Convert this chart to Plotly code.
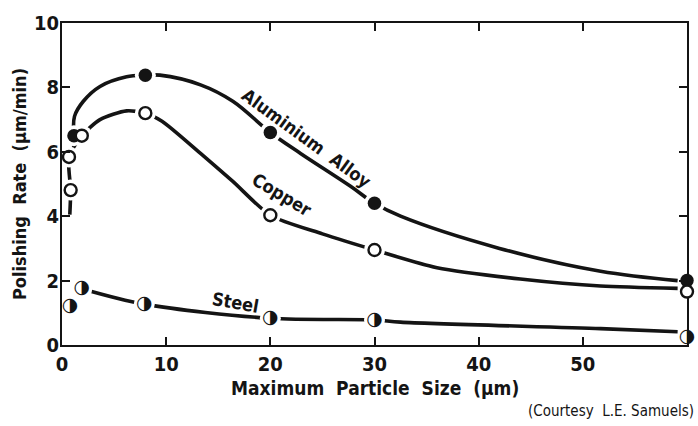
import plotly.graph_objects as go

# Polishing rate against maximum abrasive particle size, three metals
al_x = [1.15, 8, 20, 30, 60]
al_y = [6.5, 8.38, 6.6, 4.4, 2.0]
cu_x = [0.67, 0.83, 1.9, 8, 20, 30, 60]
cu_y = [5.84, 4.81, 6.5, 7.2, 4.03, 2.95, 1.66]
st_x = [0.77, 1.9, 7.9, 20, 30, 60]
st_y = [1.2, 1.75, 1.27, 0.83, 0.78, 0.23]

# faired curves drawn through each set of results
al_cx = [1.15, 1.2, 2.05, 3.65, 6.2, 8, 9.4, 13.3, 16.4, 20, 22.9, 27.7, 30, 32.5, 42, 51.7, 59.1]
al_cy = [6.5, 7.1, 7.57, 8.03, 8.33, 8.38, 8.38, 8.08, 7.57, 6.6, 5.95, 4.93, 4.4, 4.0, 3.0, 2.29, 2.0]
cu_cx = [0.75, 0.83, 0.67, 1.9, 3.65, 6.2, 8, 9.6, 13.3, 16.4, 20, 25, 30, 36, 44, 51.7, 59.1]
cu_cy = [4.05, 4.81, 5.84, 6.5, 7.0, 7.27, 7.2, 6.95, 5.95, 5.08, 4.03, 3.45, 2.95, 2.4, 2.05, 1.83, 1.76]
st_cx = [1.9, 7.9, 20, 30, 32.5, 51.7, 59.1]
st_cy = [1.75, 1.27, 0.83, 0.78, 0.71, 0.51, 0.41]

x_ticks = [0, 10, 20, 30, 40, 50, 60]
y_ticks = [0, 2, 4, 6, 8, 10]

INK = "#141414"
FONT = "DejaVu Sans Condensed, Liberation Sans Narrow, DejaVu Sans, sans-serif"

fig = go.Figure()

# curves
for cx, cy, smooth in [(al_cx, al_cy, 1.0), (cu_cx, cu_cy, 0.7), (st_cx, st_cy, 0.9)]:
    fig.add_trace(go.Scatter(x=cx, y=cy, mode="lines",
                             line=dict(color=INK, width=3.6, shape="spline", smoothing=smooth),
                             hoverinfo="skip", showlegend=False))


def on_curve(px, py, cx):
    lo, hi = min(cx), max(cx)
    pts = [(a, b) for a, b in zip(px, py) if lo - 0.01 <= a <= hi + 0.01]
    return [p[0] for p in pts], [p[1] for p in pts]


# white collars break the curves around each plotted point
for px, py, cx in [(al_x, al_y, al_cx), (cu_x, cu_y, cu_cx), (st_x, st_y, st_cx)]:
    hx, hy = on_curve(px, py, cx)
    fig.add_trace(go.Scatter(x=hx, y=hy, mode="markers", yaxis="y2",
                             marker=dict(color="white", size=21, line=dict(width=0)),
                             hoverinfo="skip", showlegend=False, cliponaxis=False))

# aluminium alloy: solid points
fig.add_trace(go.Scatter(x=al_x, y=al_y, mode="markers", yaxis="y2", name="Aluminium Alloy",
                         marker=dict(color=INK, size=13.5, line=dict(width=0)),
                         showlegend=False, cliponaxis=False))
# copper: open points
fig.add_trace(go.Scatter(x=cu_x, y=cu_y, mode="markers", yaxis="y2", name="Copper",
                         marker=dict(color="white", size=12, line=dict(color=INK, width=2.4)),
                         showlegend=False, cliponaxis=False))
# steel: half-filled points
fig.add_trace(go.Scatter(x=st_x, y=st_y, mode="text", yaxis="y2", name="Steel",
                         text=["\u25D1"] * len(st_x), textposition="middle center",
                         textfont=dict(family="DejaVu Sans", size=19, color=INK),
                         showlegend=False, cliponaxis=False))

axis_common = dict(showgrid=False, zeroline=False, showline=True, linecolor=INK, linewidth=2,
                   ticks="inside", ticklen=8, tickwidth=2, tickcolor=INK)

tick_font = dict(size=20, family=FONT, color=INK, weight="bold")

fig.update_layout(
    width=698, height=426,
    margin=dict(l=62, r=11, t=17, b=81),
    paper_bgcolor="white", plot_bgcolor="white",
    font=dict(family=FONT, color=INK),
    xaxis=dict(range=[0, 60], tickvals=x_ticks, ticktext=[str(v) for v in x_ticks],
               mirror="ticks", layer="below traces", tickfont=tick_font, **axis_common),
    yaxis=dict(range=[0, 10], tickvals=y_ticks, ticktext=[str(v) for v in y_ticks],
               mirror=False, layer="above traces", tickfont=tick_font,
               ticklabelstandoff=-3, **axis_common),
    yaxis2=dict(range=[0, 10], overlaying="y", side="right", tickvals=y_ticks,
                showticklabels=False, layer="below traces", **axis_common),
)

label_font = dict(family=FONT, size=18, color=INK, weight="bold")
fig.add_annotation(x=23.5, y=6.4, text="Aluminium  Alloy", textangle=36, showarrow=False,
                   font=label_font, xanchor="center", yanchor="middle")
fig.add_annotation(x=21.1, y=4.66, text="Copper", textangle=31, showarrow=False,
                   font=label_font, xanchor="center", yanchor="middle")
fig.add_annotation(x=16.7, y=1.31, text="Steel", textangle=10, showarrow=False,
                   font=label_font, xanchor="center", yanchor="middle")

# axis titles and credit line
fig.add_annotation(xref="paper", yref="paper", x=0.5, y=0, yshift=-43,
                   text="Maximum  Particle  Size  (\u03bcm)", showarrow=False,
                   font=dict(family=FONT, size=19, color=INK, weight="bold"),
                   xanchor="center", yanchor="middle")
fig.add_annotation(xref="paper", yref="paper", x=0, y=0.5, xshift=-43,
                   text="Polishing  Rate  (\u03bcm/min)", textangle=-90, showarrow=False,
                   font=dict(family=FONT, size=18, color=INK, weight="bold"),
                   xanchor="center", yanchor="middle")
fig.add_annotation(xref="paper", yref="paper", x=1, y=0, xshift=9, yshift=-66,
                   text="(Courtesy  L.E. Samuels)", showarrow=False,
                   font=dict(family=FONT, size=15, color=INK), xanchor="right", yanchor="middle")

fig.write_html("out.html")
